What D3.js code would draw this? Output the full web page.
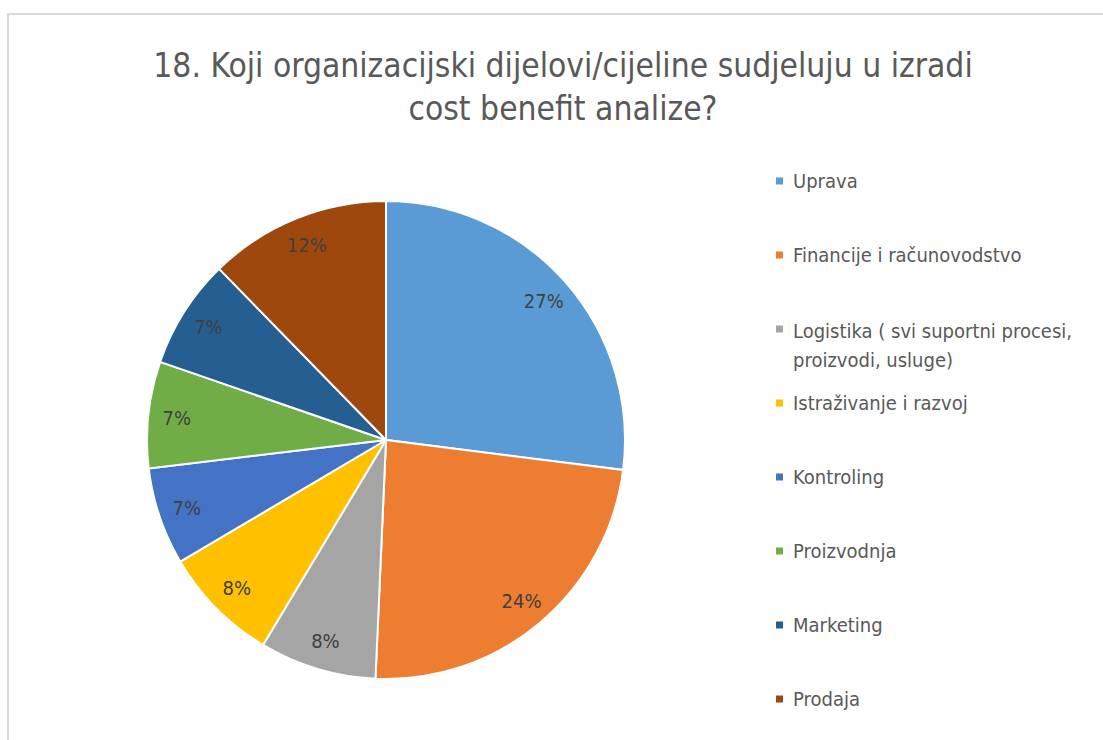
<!DOCTYPE html>
<head>
    <meta charset="utf-8">
    <script src="https://d3js.org/d3.v7.min.js"></script>
    <style>
      body { margin: 0; background: #fff; }
      text { font-family: 'Liberation Sans Narrow', 'DejaVu Sans Condensed', sans-serif; }
    </style>
</head>
<body>
    <div class="chart"></div>

    <script>
      var width = 1103,
          height = 740;

      // data
      var categories = ['Uprava', 'Financije i računovodstvo', 'Logistika ( svi suportni procesi, proizvodi, usluge)',
                        'Istraživanje i razvoj', 'Kontroling', 'Proizvodnja', 'Marketing', 'Prodaja'];
      var values = [27.0, 23.7, 7.9, 7.9, 6.6, 7.2, 7.4, 12.3];
      var colors = ['#5B9BD5', '#ED7D31', '#A5A5A5', '#FFC000', '#4472C4', '#70AD47', '#255E91', '#9E480E'];
      var titleLines = ['18. Koji organizacijski dijelovi/cijeline sudjeluju u izradi', 'cost benefit analize?'];
      var legendLines = [['Uprava'], ['Financije i računovodstvo'], ['Logistika ( svi suportni procesi,', 'proizvodi, usluge)'],
                         ['Istraživanje i razvoj'], ['Kontroling'], ['Proizvodnja'], ['Marketing'], ['Prodaja']];

      var cx = 386, cy = 440, radius = 239;

      var svg = d3.select('.chart')
          .append('svg')
          .attr('width', width)
          .attr('height', height);

      // chart area border (only top and left are visible)
      svg.append('path')
          .attr('d', 'M8,' + height + 'V14H' + width)
          .attr('fill', 'none')
          .attr('stroke', '#d9d9d9')
          .attr('stroke-width', 2);

      // title, sized to the width of the original
      var title = svg.append('text')
          .attr('text-anchor', 'middle')
          .attr('fill', '#595959')
          .style('font-size', '40px');
      title.selectAll('tspan')
          .data(titleLines)
          .enter().append('tspan')
          .attr('x', 563)
          .attr('y', function (d, i) { return 77 + i * 43; })
          .text(function (d) { return d; });
      var tw = title.select('tspan').node().getComputedTextLength();
      title.style('font-size', (40 * 820 / tw) + 'px');

      var total = d3.sum(values);
      var color = d3.scaleOrdinal().domain(categories).range(colors);

      var pie = d3.pie().sort(null).value(function (d) { return d.value; });
      var data = pie(categories.map(function (c, i) { return {name: c, value: values[i]}; }));

      var arc = d3.arc().innerRadius(0).outerRadius(radius);
      var labelArc = d3.arc().innerRadius(radius * 0.88).outerRadius(radius * 0.88);

      var g = svg.append('g')
          .attr('transform', 'translate(' + cx + ',' + cy + ')');

      g.selectAll('path')
          .data(data)
          .enter().append('path')
          .attr('d', arc)
          .attr('fill', function (d) { return color(d.data.name); })
          .attr('stroke', '#fff')
          .attr('stroke-width', 2);

      // legend font sized from the longest line (it must fit before the right edge)
      var probe = svg.append('text').style('font-size', '20px').text('Logistika ( svi suportni procesi,');
      var legendSize = Math.min(20, 20 * 292 / probe.node().getComputedTextLength());
      probe.remove();

      g.selectAll('text')
          .data(data)
          .enter().append('text')
          .attr('transform', function (d) { return 'translate(' + labelArc.centroid(d) + ')'; })
          .attr('text-anchor', 'middle')
          .attr('dy', '0.35em')
          .attr('fill', '#404040')
          .style('font-size', '20px')
          .text(function (d) { return Math.round(d.data.value / total * 100) + '%'; });

      var ly = d3.scalePoint().domain(categories).range([181, 699]);

      var legend = svg.append('g')
          .selectAll('g')
          .data(categories)
          .enter().append('g')
          .attr('transform', function (d) { return 'translate(776,' + ly(d) + ')'; });

      legend.append('rect')
          .attr('x', 0)
          .attr('y', -3.5)
          .attr('width', 7)
          .attr('height', 7)
          .attr('fill', function (d) { return color(d); });

      legend.append('text')
          .attr('fill', '#595959')
          .style('font-size', legendSize + 'px')
          .selectAll('tspan')
          .data(function (d, i) { return legendLines[i]; })
          .enter().append('tspan')
          .attr('x', 17)
          .attr('y', function (d, i, nodes) { return nodes.length > 1 ? 2 + i * 29 : 0; })
          .attr('dy', '0.35em')
          .text(function (d) { return d; });
    </script>
</body>
